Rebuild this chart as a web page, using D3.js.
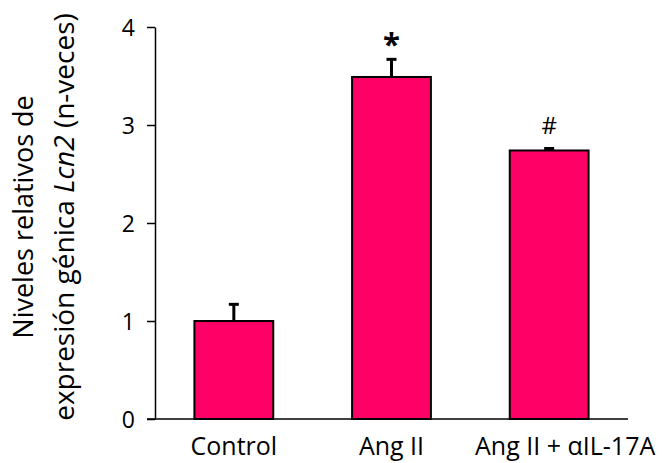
<!DOCTYPE html>
<html>
<head>
<meta charset="utf-8">
<script src="https://cdn.jsdelivr.net/npm/d3@7"></script>
<style>
  body { margin: 0; background: #fff; }
  svg text { font-family: "Open Sans", sans-serif; fill: #000; }
</style>
</head>
<body>
<svg id="chart" width="662" height="463"></svg>
<script>
// Relative Lcn2 expression per group (fold change) with SEM
const categories = ["Control", "Ang II", "Ang II + \u03b1IL-17A"];
const means = [1.0, 3.49, 2.74];
const errors = [0.17, 0.18, 0.02];
const marks = ["", "*", "#"];
const yTicks = [0, 1, 2, 3, 4];

const svg = d3.select("#chart");
const margin = { left: 155, right: 34, top: 27, bottom: 44 };
const W = 662, H = 463;

const x = d3.scaleBand()
  .domain(categories)
  .range([margin.left, W - margin.right])
  .paddingInner(0.5)
  .paddingOuter(0.25);

const y = d3.scaleLinear()
  .domain([0, 4])
  .range([H - margin.bottom, margin.top]);

// Bars
svg.append("g").selectAll("rect")
  .data(categories)
  .join("rect")
  .attr("x", d => x(d))
  .attr("y", (d, i) => y(means[i]))
  .attr("width", x.bandwidth())
  .attr("height", (d, i) => y(0) - y(means[i]))
  .attr("fill", "#ff0066")
  .attr("stroke", "#000")
  .attr("stroke-width", 2);

// Error bars (upper only)
const eb = svg.append("g").attr("stroke", "#000").attr("stroke-width", 3);
categories.forEach((c, i) => {
  const cx = x(c) + x.bandwidth() / 2;
  eb.append("line").attr("x1", cx).attr("x2", cx)
    .attr("y1", y(means[i])).attr("y2", y(means[i] + errors[i]));
  eb.append("line").attr("x1", cx - 5).attr("x2", cx + 5)
    .attr("y1", y(means[i] + errors[i])).attr("y2", y(means[i] + errors[i]));
});

// Significance marks
svg.append("g").selectAll("text")
  .data(categories)
  .join("text")
  .attr("x", d => x(d) + x.bandwidth() / 2)
  .attr("y", (d, i) => i === 1 ? y(means[i] + errors[i]) - 4 : y(means[i] + errors[i]) - 15)
  .attr("text-anchor", "middle")
  .attr("font-size", (d, i) => i === 1 ? 31 : 24)
  .attr("font-weight", (d, i) => i === 1 ? "bold" : "normal")
  .text((d, i) => marks[i]);

// Y axis
const yAxis = svg.append("g")
  .attr("transform", `translate(${margin.left},0)`)
  .call(d3.axisLeft(y).tickValues(yTicks).tickFormat(d3.format("d"))
    .tickSize(8).tickSizeOuter(0).tickPadding(12));
yAxis.select(".domain").attr("stroke", "#000").attr("stroke-width", 1.5);
yAxis.selectAll(".tick line").attr("stroke", "#000").attr("stroke-width", 1.5);
yAxis.selectAll(".tick text")
  .attr("font-size", 23)
  .attr("font-family", "'Open Sans', sans-serif")
  .attr("dy", "0.36em");

// X axis baseline
svg.append("line")
  .attr("x1", margin.left - 8).attr("x2", W - margin.right)
  .attr("y1", y(0)).attr("y2", y(0))
  .attr("stroke", "#000").attr("stroke-width", 1.5);

// Category labels
svg.append("g").selectAll("text")
  .data(categories)
  .join("text")
  .attr("x", (d, i) => x(d) + x.bandwidth() / 2 + (i === 2 ? 16 : 0))
  .attr("y", 455)
  .attr("text-anchor", "middle")
  .attr("font-size", 25)
  .text(d => d);

// Y axis title (two lines)
const cy = 217;
svg.append("text")
  .attr("transform", `translate(33,${cy}) rotate(-90)`)
  .attr("text-anchor", "middle")
  .attr("font-size", 27)
  .text("Niveles relativos de");
const t2 = svg.append("text")
  .attr("transform", `translate(74,${cy}) rotate(-90)`)
  .attr("text-anchor", "middle")
  .attr("font-size", 28);
t2.append("tspan").text("expresión génica ");
t2.append("tspan").attr("font-style", "italic").text("Lcn2");
t2.append("tspan").text(" (n-veces)");
</script>
</body>
</html>
